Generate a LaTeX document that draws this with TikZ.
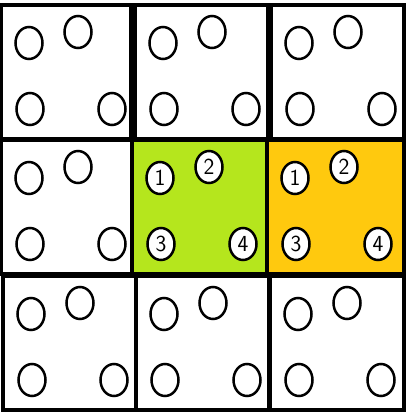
\documentclass[tikz,border=0pt]{standalone}
\usetikzlibrary{shapes.geometric}
\definecolor{limecell}{HTML}{B5E61D}
\definecolor{goldcell}{HTML}{FFC90E}
\tikzset{cell/.style={draw, line width=3.2pt, inner sep=0pt},
  hole/.style={ellipse, draw, fill=white, line width=2.5pt, minimum width=27pt, minimum height=32pt, inner sep=0pt, font=\sffamily\fontsize{23}{23}\selectfont}}

\begin{document}
\begin{tikzpicture}[x=1pt,y=-1pt]
\useasboundingbox (0,0) rectangle (416,415);
% the nine cells, each with four holes
\foreach \n/\l/\t/\r/\b/\c/\k in {a/1/5/131/139/white/0, b/135/5/268/139/white/0, c/271/5/404/139/white/0,
  d/1/140/132/274/white/0, e/132/140/267/274/limecell/1, f/267/140/404/274/goldcell/1,
  g/3/276/136/410/white/0, h/136/276/269/410/white/0, i/270/276/404/410/white/0}{
  \node[cell, fill=\c, minimum width=\r-\l, minimum height=\b-\t] (\n) at ({(\l+\r)/2},{(\t+\b)/2}) {};
  \foreach \j/\dx/\dy in {1/28/38, 2/77/27, 3/29/104, 4/111/104}
    \node[hole] (\n\j) at (\l+\dx,\t+\dy) {\ifnum\k=1 \j\fi};
}
\end{tikzpicture}
\end{document}
